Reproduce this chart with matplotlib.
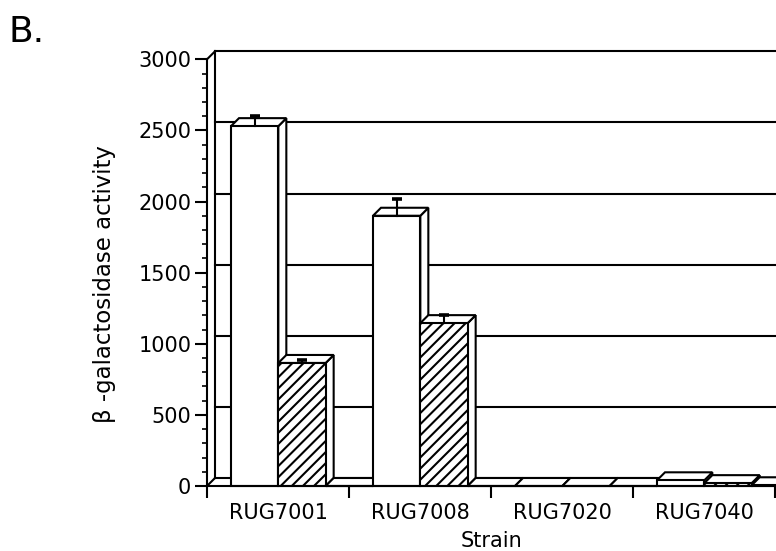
import matplotlib
matplotlib.use("Agg")
import matplotlib.pyplot as plt
from matplotlib.patches import Polygon, Rectangle
from matplotlib.ticker import MultipleLocator

# ---------------- data ----------------
categories = ["RUG7001", "RUG7008", "RUG7020", "RUG7040"]
white_values = [2530, 1900, 0, 40]
hatched_values = [865, 1145, 0, 20]
third_values = [0, 0, 0, 5]
white_err = [73, 115, 0, 0]
hatched_err = [20, 56, 0, 0]
y_ticks = [0, 500, 1000, 1500, 2000, 2500, 3000]
y_label = "\u03b2 -galactosidase activity"
x_label = "Strain"
panel_label = "B."

# ---------------- layout ----------------
plt.rcParams["font.family"] = ["DejaVu Sans"]
plt.rcParams["hatch.linewidth"] = 1.5

W, H = 776, 551
fig = plt.figure(figsize=(W / 100, H / 100), dpi=100)
L, R, T, B = 207, 775, 59.3, 486   # axes box in pixels
ax = fig.add_axes([L / W, (H - B) / H, (R - L) / W, (B - T) / H])
ax.set_xlim(0, len(categories))
ax.set_ylim(0, 3000)

pxx = len(categories) / (R - L)
pxy = 3000 / (B - T)
DX, DY = 8 * pxx, 8 * pxy          # depth offset
LW = 1.5

# back wall, gridlines and floor
xend = len(categories) + 40 * pxx
for g in y_ticks:
    ax.plot([DX, xend], [g + DY, g + DY], color="black", lw=LW, clip_on=False, zorder=1)
ax.plot([DX, DX], [DY, 3000 + DY], color="black", lw=LW, clip_on=False, zorder=1)
ax.plot([0, DX], [0, DY], color="black", lw=LW, clip_on=False, zorder=1)
ax.plot([0, DX], [3000, 3000 + DY], color="black", lw=LW, clip_on=False, zorder=1)

# bars
group_offset = 24 * pxx
bw = 1 / 3
series = [(white_values, None, white_err),
          (hatched_values, "///", hatched_err),
          (third_values, None, [0] * len(categories))]
z = 3
for c in range(len(categories)):
    for s, (vals, hatch, errs) in enumerate(series):
        v = vals[c]
        x0 = c + group_offset + s * bw
        front = Rectangle((x0, 0), bw, v, facecolor="white", edgecolor="black",
                          hatch=hatch, lw=LW, clip_on=False, zorder=z)
        top = Polygon([(x0, v), (x0 + bw, v), (x0 + bw + DX, v + DY), (x0 + DX, v + DY)],
                      closed=True, facecolor="white", edgecolor="black", lw=LW,
                      clip_on=False, zorder=z)
        side = Polygon([(x0 + bw, 0), (x0 + bw + DX, DY), (x0 + bw + DX, v + DY), (x0 + bw, v)],
                       closed=True, facecolor="white", edgecolor="black", lw=LW,
                       clip_on=False, zorder=z)
        for p in (side, top, front):
            ax.add_patch(p)
        e = errs[c]
        if e > 0:
            xc = x0 + bw / 2
            ax.plot([xc, xc], [v, v + e], color="black", lw=LW, zorder=z + 0.5, clip_on=False)
            ax.plot([xc - 5 * pxx, xc + 5 * pxx], [v + e, v + e], color="black", lw=2.6,
                    zorder=z + 0.5, clip_on=False, solid_capstyle="butt")
        z += 1

# axes styling
for sp in ("top", "right"):
    ax.spines[sp].set_visible(False)
for sp in ("left", "bottom"):
    ax.spines[sp].set_linewidth(LW)
    ax.spines[sp].set_zorder(50)

ax.set_yticks(y_ticks)
ax.set_yticklabels([str(t) for t in y_ticks])
ax.yaxis.set_minor_locator(MultipleLocator(100))
ax.tick_params(axis="y", which="major", length=8.6, width=LW, direction="out",
               pad=2.7, labelsize=15)
ax.tick_params(axis="y", which="minor", length=3.6, width=1.2, direction="out")

ax.set_xticks(range(len(categories) + 1))
ax.set_xticklabels([""] * (len(categories) + 1))
ax.set_xticks([c + 0.5 for c in range(len(categories))], minor=True)
ax.set_xticklabels(categories, minor=True)
ax.tick_params(axis="x", which="major", length=8.6, width=LW, direction="out")
ax.tick_params(axis="x", which="minor", length=0, pad=12, labelsize=15)

fig.text(105 / W, 1 - 284 / H, y_label, rotation=90, ha="center", va="center", fontsize=16.5)
fig.text(491 / W, 1 - 541 / H, x_label, ha="center", va="center", fontsize=15)
fig.text(8.5 / W, 1 - 42 / H, panel_label, ha="left", va="baseline", fontsize=26)

fig.savefig("out.png", dpi=100)
